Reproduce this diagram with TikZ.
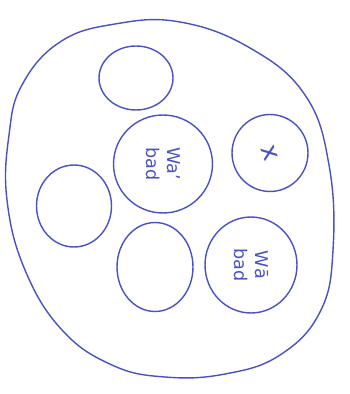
\documentclass[tikz,border=0pt]{standalone}
\usepackage{fontspec}
\setsansfont{DejaVu Sans}
\usetikzlibrary{shapes.geometric}
\definecolor{PenBlue}{RGB}{72,82,196}

\begin{document}
\begin{tikzpicture}[
      x=0.02cm,y=-0.02cm,
      font=\sffamily,
      pen/.style={draw=PenBlue,line width=0.8pt},
      hole/.style={pen,ellipse,inner sep=0pt},
      note/.style={rotate=-90,text=PenBlue,align=center,font=\sffamily,inner sep=0pt}
    ]
      \useasboundingbox (0,0) rectangle (350,394);
      % outer blob
      \draw[pen] plot[smooth cycle,tension=0.7] coordinates {
        (22,85) (60,42) (115,24) (180,22) (250,48) (305,95) (329,165)
        (333,250) (320,312) (280,355) (225,374) (165,377) (112,365)
        (62,330) (25,270) (7,200) (9,135)};
      % holes
      \node[hole,minimum width=1.48cm,minimum height=1.28cm] (top) at (136,78) {};
      \node[hole,minimum width=1.98cm,minimum height=1.96cm] (waA) at (163,164) {};
      \node[hole,minimum width=1.52cm,minimum height=1.54cm] (cross) at (270,153) {};
      \node[hole,minimum width=1.5cm,minimum height=1.64cm] (left) at (74,206) {};
      \node[hole,minimum width=1.52cm,minimum height=1.78cm] (bottom) at (155,267) {};
      \node[hole,minimum width=1.84cm,minimum height=1.92cm] (waB) at (251,265) {};
      % labels
      \node[note] (waAtext) at (waA) {Wa’\\bad};
      \node[note] (waBtext) at (waB) {Wā\\bad};
      \node[note,font=\sffamily\Large,rotate=20] (crosstext) at (cross) {x};
    \end{tikzpicture}
\end{document}
